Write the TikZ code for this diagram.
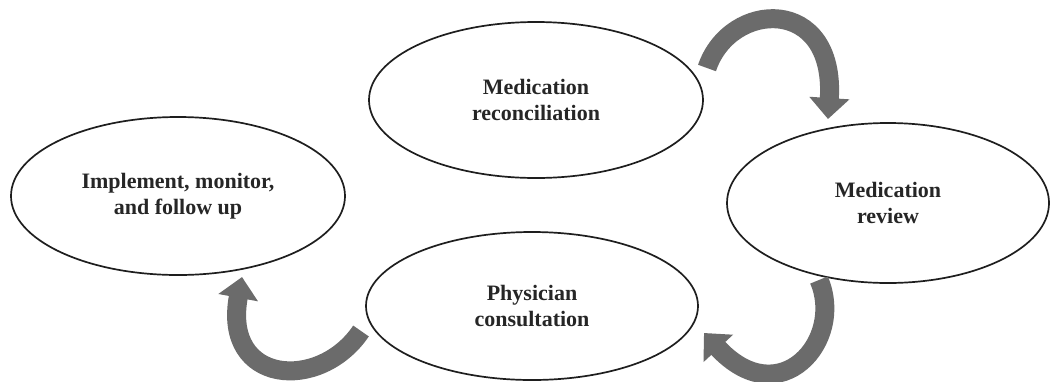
\documentclass[tikz,border=0pt]{standalone}
\usepackage{fontspec}
\setmainfont{Liberation Serif}
\usetikzlibrary{shapes.geometric,arrows.meta}
\definecolor{arrowgray}{HTML}{6B6B6B}
\definecolor{edgegray}{HTML}{1E1E1E}
\tikzset{
  stage/.style={ellipse, draw=edgegray, line width=1.7pt, fill=white, inner sep=0pt,
    align=center, font=\fontsize{22pt}{26pt}\selectfont\bfseries, text=black!85},
  bigarrow/.style={draw=arrowgray, line width=19pt,
    -{Triangle[width=39pt,length=21pt,fill=arrowgray]}}
}
\begin{document}
\begin{tikzpicture}[x=1pt,y=-1pt]
\fill[white] (0,0) rectangle (1051,381);
\useasboundingbox (0,0) rectangle (1051,381);
\node[stage, minimum width=334pt, minimum height=156pt] (recon) at (536,100) {Medication\\reconciliation};
\node[stage, minimum width=322pt, minimum height=160pt] (review) at (888,203) {Medication\\review};
\node[stage, minimum width=332pt, minimum height=148pt] (phys) at (532,306) {Physician\\consultation};
\node[stage, minimum width=334pt, minimum height=158pt] (impl) at (178,196) {Implement, monitor,\\and follow up};
\coordinate (a1s) at (707,68);
\coordinate (a1e) at (828,119);
\coordinate (a2s) at (819,280);
\coordinate (a2e) at (704,333);
\coordinate (a3s) at (361,331);
\coordinate (a3e) at (242,277);
\draw[bigarrow] (a1s) .. controls (730,0) and (836,-5) .. (a1e);
\draw[bigarrow] (a2s) .. controls (845,340) and (780,415) .. (a2e);
\draw[bigarrow] (a3s) .. controls (320,392) and (222,385) .. (a3e);
\end{tikzpicture}
\end{document}
